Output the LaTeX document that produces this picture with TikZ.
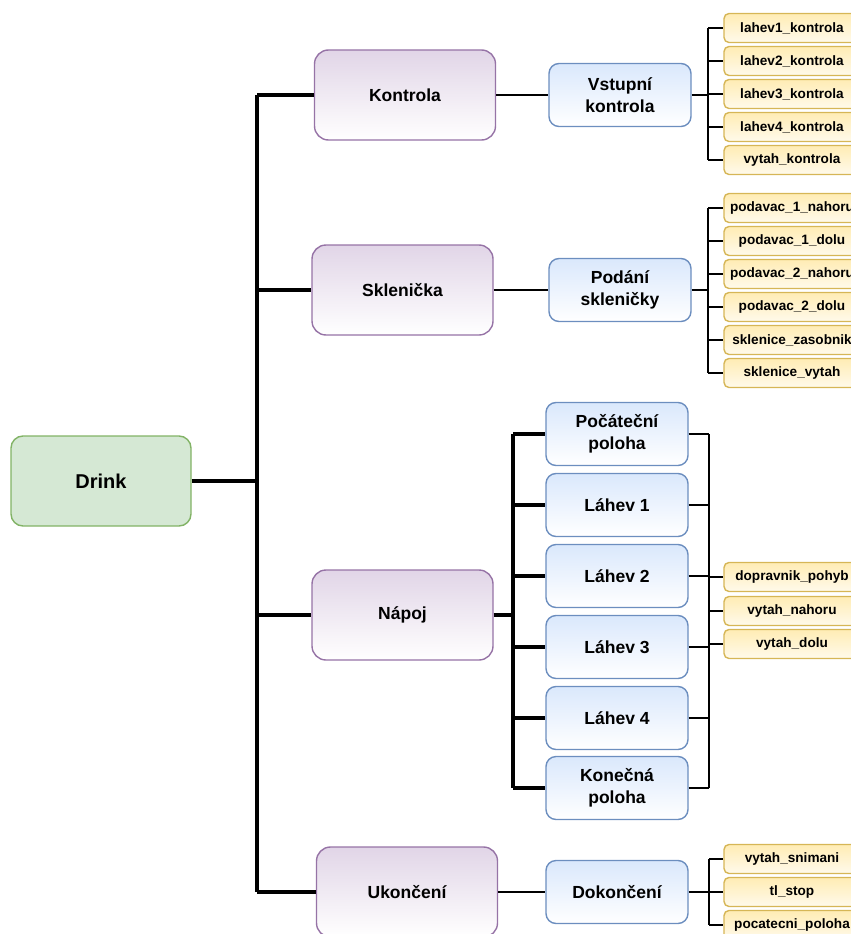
\documentclass[tikz,border=0pt]{standalone}
\usepackage{fontspec}
\setmainfont{Liberation Sans}
\begin{document}
\begin{tikzpicture}[x=1pt,y=-1pt,
  box/.style={rounded corners=#1, line width=1.4pt, inner sep=2pt, align=center, font=\bfseries},
  rootbox/.style={box=12pt, draw={rgb,255:red,130;green,179;blue,102}, fill={rgb,255:red,213;green,232;blue,212}, minimum width=180pt, minimum height=90pt, font=\bfseries\fontsize{20}{24}\selectfont},
  purplebox/.style={box=14pt, draw={rgb,255:red,150;green,115;blue,166}, top color={rgb,255:red,225;green,213;blue,231}, bottom color=white, minimum width=181pt, minimum height=90pt, font=\bfseries\fontsize{17.5}{21}\selectfont},
  bluebox/.style={box=10pt, draw={rgb,255:red,108;green,142;blue,191}, top color={rgb,255:red,218;green,232;blue,252}, bottom color=white, minimum width=142pt, minimum height=63pt, font=\bfseries\fontsize{17.5}{21.5}\selectfont},
  yellowbox/.style={box=5pt, draw={rgb,255:red,214;green,182;blue,86}, top color={rgb,255:red,255;green,236;blue,180}, bottom color={rgb,255:red,255;green,250;blue,235}, minimum width=136pt, minimum height=29pt, font=\bfseries\fontsize{13.6}{16}\selectfont},
  thick3/.style={line width=3.8pt},
  mid/.style={line width=2.6pt},
  thin2/.style={line width=1.8pt}]
\useasboundingbox (0,0) rectangle (851,934);
\clip (0,0) rectangle (851,934);

% root
\node[rootbox] (drink) at (101,481) {Drink};

% level 1
\node[purplebox] (kon) at (405,95) {Kontrola};
\node[purplebox] (skl) at (402.5,290) {Sklenička};
\node[purplebox] (nap) at (402.5,615) {Nápoj};
\node[purplebox] (uko) at (407,892) {Ukončení};

% level 2
\node[bluebox] (vst) at (620,95) {Vstupní\\kontrola};
\node[bluebox] (pod) at (620,290) {Podání\\skleničky};
\node[bluebox] (poc) at (617,434) {Počáteční\\poloha};
\node[bluebox] (l1) at (617,505) {Láhev 1};
\node[bluebox] (l2) at (617,576) {Láhev 2};
\node[bluebox] (l3) at (617,647) {Láhev 3};
\node[bluebox] (l4) at (617,718) {Láhev 4};
\node[bluebox] (kpo) at (617,788) {Konečná\\poloha};
\node[bluebox] (dok) at (617,892) {Dokončení};

% level 3
\node[yellowbox] (a1) at (792,28) {lahev1\_kontrola};
\node[yellowbox] (a2) at (792,61) {lahev2\_kontrola};
\node[yellowbox] (a3) at (792,94) {lahev3\_kontrola};
\node[yellowbox] (a4) at (792,127) {lahev4\_kontrola};
\node[yellowbox] (a5) at (792,160) {vytah\_kontrola};

\node[yellowbox] (b1) at (792,208) {podavac\_1\_nahoru};
\node[yellowbox] (b2) at (792,241) {podavac\_1\_dolu};
\node[yellowbox] (b3) at (792,274) {podavac\_2\_nahoru};
\node[yellowbox] (b4) at (792,307) {podavac\_2\_dolu};
\node[yellowbox] (b5) at (792,340) {sklenice\_zasobnik};
\node[yellowbox] (b6) at (792,373) {sklenice\_vytah};

\node[yellowbox] (c1) at (792,577) {dopravnik\_pohyb};
\node[yellowbox] (c2) at (792,611) {vytah\_nahoru};
\node[yellowbox] (c3) at (792,644) {vytah\_dolu};

\node[yellowbox] (d1) at (792,859) {vytah\_snimani};
\node[yellowbox] (d2) at (792,892) {tl\_stop};
\node[yellowbox] (d3) at (792,925) {pocatecni\_poloha};

% trunk
\coordinate (t) at (257,481);
\draw[thick3] (drink.east) -- (t);
\draw[thick3] (t |- kon.west) -- (t |- uko.west);
\foreach \n in {kon,skl,nap,uko} \draw[thick3] (t |- \n.west) -- (\n.west);

% level1 -> level2
\draw[mid] (kon.east) -- (vst.west);
\draw[mid] (skl.east) -- (pod.west);
\draw[mid] (uko.east) -- (dok.west);
\coordinate (nb) at (513,615);
\draw[thick3] (nap.east) -- (nb);
\draw[thick3] (nb |- poc.west) -- (nb |- kpo.west);
\foreach \n in {poc,l1,l2,l3,l4,kpo} \draw[thick3] (nb |- \n.west) -- (\n.west);

% level2 -> level3
\coordinate (ab) at (708,95);
\draw[thin2] (vst.east) -- (ab);
\draw[thin2] (ab |- a1.west) -- (ab |- a5.west);
\foreach \n in {a1,a2,a3,a4,a5} \draw[thin2] (ab |- \n.west) -- (\n.west);

\coordinate (bb) at (708,290);
\draw[thin2] (pod.east) -- (bb);
\draw[thin2] (bb |- b1.west) -- (bb |- b6.west);
\foreach \n in {b1,b2,b3,b4,b5,b6} \draw[thin2] (bb |- \n.west) -- (\n.west);

\coordinate (cb) at (709,577);
\draw[thin2] (cb |- poc.east) -- (cb |- kpo.east);
\foreach \n in {poc,l1,l2,l3,l4,kpo} \draw[thin2] (\n.east) -- (cb |- \n.east);
\foreach \n in {c1,c2,c3} \draw[thin2] (cb |- \n.west) -- (\n.west);

\coordinate (db) at (709,892);
\draw[thin2] (dok.east) -- (db);
\draw[thin2] (db |- d1.west) -- (db |- d3.west);
\foreach \n in {d1,d2,d3} \draw[thin2] (db |- \n.west) -- (\n.west);
\end{tikzpicture}
\end{document}
